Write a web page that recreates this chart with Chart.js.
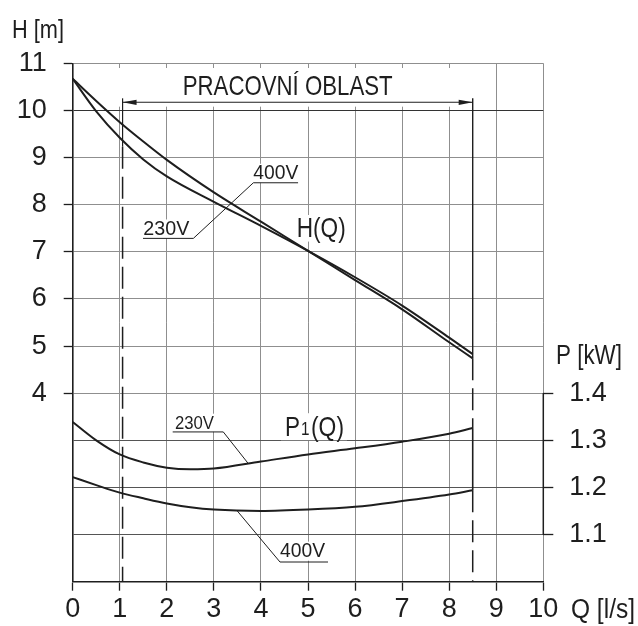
<!DOCTYPE html>
<html>
<head>
<meta charset="utf-8">
<script src="https://cdn.jsdelivr.net/npm/chart.js@4.4.1/dist/chart.umd.min.js"></script>
<style>
  body { margin: 0; background: #fff; }
  #wrap { width: 638px; height: 626px; }
</style>
</head>
<body>
<div id="wrap"><canvas id="chart"></canvas></div>
<script>
// H(Q) curves, Q in l/s, H in m
const flowH = [0, 0.5, 1, 1.5, 2, 3, 4, 5, 6, 7, 8, 8.5];
const head230 = [10.67, 9.98, 9.42, 8.96, 8.60, 8.06, 7.55, 7.02, 6.46, 5.86, 5.18, 4.83];
const head400 = [10.67, 10.20, 9.75, 9.34, 8.95, 8.26, 7.64, 7.02, 6.40, 5.78, 5.08, 4.74];

// P1(Q) curves, P in kW
const flowP = [0, 0.5, 1, 1.5, 2, 2.5, 3, 4, 5, 6, 7, 8, 8.5];
const power230 = [1.339, 1.300, 1.270, 1.253, 1.242, 1.2385, 1.240, 1.255, 1.270, 1.283, 1.297, 1.314, 1.326];
const power400 = [1.222, 1.205, 1.189, 1.177, 1.166, 1.158, 1.153, 1.150, 1.153, 1.159, 1.171, 1.185, 1.194];

const workRange = [1.06, 8.5];   // pracovní oblast
const qTicks = [0, 1, 2, 3, 4, 5, 6, 7, 8, 9, 10];
const hLabelFrom = 4;            // H labels shown from 4 m up
const pLabels = [1.1, 1.2, 1.3, 1.4];

const FONT = '"Liberation Sans Narrow", "Liberation Sans", Arial, sans-serif';
const INK = '#1e1e1e';

function pts(xs, ys) { return xs.map((x, i) => ({ x: x, y: ys[i] })); }

function isPLabel(v) { return pLabels.some(p => Math.abs(p - v) < 1e-6); }

// draw condensed text, left/baseline anchored, stretched to a given width
function text(ctx, str, x, y, size, width) {
  ctx.font = size + 'px "Liberation Sans"';
  const w = ctx.measureText(str).width;
  const sx = width ? width / w : 1;
  ctx.save();
  ctx.translate(x, y);
  ctx.scale(sx, 1);
  ctx.fillStyle = INK;
  ctx.textAlign = 'left';
  ctx.textBaseline = 'alphabetic';
  ctx.fillText(str, 0, 0);
  ctx.restore();
}

function line(ctx, p, width, dash) {
  ctx.save();
  ctx.strokeStyle = INK;
  ctx.lineWidth = width;
  ctx.setLineDash(dash || []);
  ctx.beginPath();
  p.forEach((q, i) => i ? ctx.lineTo(q[0], q[1]) : ctx.moveTo(q[0], q[1]));
  ctx.stroke();
  ctx.restore();
}

function arrowHead(ctx, x, y, dir) {
  ctx.fillStyle = INK;
  ctx.beginPath();
  ctx.moveTo(x, y);
  ctx.lineTo(x - dir * 14, y - 2.6);
  ctx.lineTo(x - dir * 14, y + 2.6);
  ctx.closePath();
  ctx.fill();
}

// labels placed in data units: [text, Q, value, axis, size, width]
const labels = [
  ['PRACOVNÍ OBLAST', 2.337, 10.327, 'y', 28, 210],
  ['H(Q)', 4.76, 7.318, 'y', 28, 49],
  ['230V', 1.50, 7.355, 'y', 20, 46],
  ['400V', 3.838, 8.537, 'y', 20, 45],
  ['230V', 2.174, 1.325, 'y1', 19, 39],
  ['400V', 4.405, 1.0518, 'y1', 20, 45]
];

const overlay = {
  id: 'overlay',
  beforeDatasetsDraw(chart) {
    const ctx = chart.ctx, X = chart.scales.x, Y = chart.scales.y, P = chart.scales.y1;
    ctx.save();
    ctx.fillStyle = '#fff';
    // white band behind the working range title
    ctx.fillRect(X.getPixelForValue(0.6), Y.getPixelForValue(10.9),
      X.getPixelForValue(8.3) - X.getPixelForValue(0.6), Y.getPixelForValue(10.08) - Y.getPixelForValue(10.9));
    labels.forEach(l => {
      const s = l[3] === 'y' ? Y : P;
      const x = X.getPixelForValue(l[1]), y = s.getPixelForValue(l[2]);
      ctx.fillRect(x - 3, y - l[4] * 0.78, l[5] + 6, l[4] * 0.95);
    });
    // P1(Q) box
    const px = X.getPixelForValue(4.511), py = P.getPixelForValue(1.3087);
    ctx.fillRect(px - 4, py - 23, 66, 27);
    ctx.restore();
  },
  afterDatasetsDraw(chart) {
    const ctx = chart.ctx, X = chart.scales.x, Y = chart.scales.y, P = chart.scales.y1;
    const xa = X.getPixelForValue(workRange[0]), xb = X.getPixelForValue(workRange[1]);
    const top = Y.getPixelForValue(10.257), arrowY = Y.getPixelForValue(10.172);
    const bottom = Y.getPixelForValue(0);

    // working range limits
    const hEnd = Y.getPixelForValue(Math.min(head230[head230.length - 1], head400[head400.length - 1]));
    const pHi = P.getPixelForValue(power230[power230.length - 1]);
    const pLo = P.getPixelForValue(power400[power400.length - 1]);
    line(ctx, [[xa, top], [xa, Y.getPixelForValue(9.23)]], 1.2);
    line(ctx, [[xa, Y.getPixelForValue(9.23)], [xa, bottom]], 1.5, [22, 8]);
    line(ctx, [[xb, top], [xb, hEnd]], 1.4);
    line(ctx, [[xb, hEnd], [xb, pHi]], 1.5, [22, 8]);
    line(ctx, [[xb, pHi], [xb, pLo]], 1.6);
    line(ctx, [[xb, pLo], [xb, bottom]], 1.5, [22, 8]);

    // arrow
    line(ctx, [[xa, arrowY], [xb, arrowY]], 1.1);
    arrowHead(ctx, xa, arrowY, -1);
    arrowHead(ctx, xb, arrowY, 1);

    // leaders
    const yH = v => Y.getPixelForValue(v), yP = v => P.getPixelForValue(v), xq = v => X.getPixelForValue(v);
    line(ctx, [[xq(1.494), yH(7.285)], [xq(2.564), yH(7.285)], [xq(3.839), yH(8.465)], [xq(4.789), yH(8.465)]], 1);
    line(ctx, [[xq(2.125), yP(1.3178)], [xq(3.2), yP(1.3178)], [xq(3.731), yP(1.2507)]], 1);
    line(ctx, [[xq(3.498), yP(1.150)], [xq(4.405), yP(1.0418)], [xq(5.425), yP(1.0418)]], 1);

    labels.forEach(l => {
      const s = l[3] === 'y' ? Y : P;
      text(ctx, l[0], X.getPixelForValue(l[1]), s.getPixelForValue(l[2]), l[4], l[5]);
    });
    // P1(Q) with subscript
    const px = X.getPixelForValue(4.511), py = P.getPixelForValue(1.3087);
    text(ctx, 'P', px, py, 28, 15);
    text(ctx, '1', px + 16, py - 1, 19, 8.5);
    text(ctx, '(Q)', px + 26, py, 28, 33);

    // right axis line, only over labelled range
    const r = chart.chartArea.right;
    line(ctx, [[r, P.getPixelForValue(pLabels[pLabels.length - 1])], [r, P.getPixelForValue(pLabels[0])]], 1.5);

    // axis titles
    text(ctx, 'H [m]', 12, 38, 26, 52);
    text(ctx, 'Q [l/s]', 571, 618, 27, 64);
    text(ctx, 'P [kW]', 556, 364, 27, 66);
  }
};

const curve = { borderColor: INK, borderWidth: 2, pointRadius: 0, fill: false, cubicInterpolationMode: 'monotone' };

new Chart(document.getElementById('chart'), {
  type: 'line',
  data: {
    datasets: [
      Object.assign({ label: 'H 400V', data: pts(flowH, head400), yAxisID: 'y' }, curve),
      Object.assign({ label: 'H 230V', data: pts(flowH, head230), yAxisID: 'y' }, curve),
      Object.assign({ label: 'P1 230V', data: pts(flowP, power230), yAxisID: 'y1' }, curve),
      Object.assign({ label: 'P1 400V', data: pts(flowP, power400), yAxisID: 'y1' }, curve)
    ]
  },
  options: {
    responsive: true,
    maintainAspectRatio: false,
    animation: false,
    layout: { padding: { top: 63.3, left: 0, right: 0, bottom: 0 } },
    plugins: { legend: { display: false }, tooltip: { enabled: false } },
    scales: {
      x: {
        type: 'linear', min: qTicks[0], max: qTicks[qTicks.length - 1],
        afterBuildTicks(s) { s.ticks = qTicks.map(v => ({ value: v })); },
        ticks: { color: INK, font: { family: FONT, size: 27 }, padding: 3, maxRotation: 0, autoSkip: false },
        grid: { color: '#8f8f8f', lineWidth: 1, tickColor: INK, tickLength: 9, tickWidth: 1.3 },
        border: { color: INK, width: 1.6 },
        afterFit(s) { s.height = 44.3; }
      },
      y: {
        min: 0, max: 11,
        ticks: { stepSize: 1, color: INK, font: { family: FONT, size: 27 }, padding: 17, autoSkip: false,
          callback: v => v >= hLabelFrom ? v : '' },
        grid: {
          lineWidth: 1, tickLength: 9, tickWidth: 1.3,
          color: c => c.tick.value === 10 ? '#333' : (c.tick.value <= 3 ? '#555' : '#8f8f8f'),
          tickColor: c => c.tick.value >= hLabelFrom ? INK : 'rgba(0,0,0,0)'
        },
        border: { color: INK, width: 1.6 },
        afterFit(s) { s.width = 72.7; }
      },
      y1: {
        position: 'right', min: 1.0, max: 2.1,
        ticks: { stepSize: 0.1, color: INK, font: { family: FONT, size: 27 }, padding: 16, autoSkip: false,
          callback: v => isPLabel(v) ? v.toFixed(1) : '' },
        grid: { drawOnChartArea: false, tickLength: 10, tickWidth: 1.3,
          tickColor: c => isPLabel(c.tick.value) ? INK : 'rgba(0,0,0,0)' },
        border: { display: false },
        afterFit(s) { s.width = 94.7; }
      }
    }
  },
  plugins: [overlay]
});
</script>
</body>
</html>
